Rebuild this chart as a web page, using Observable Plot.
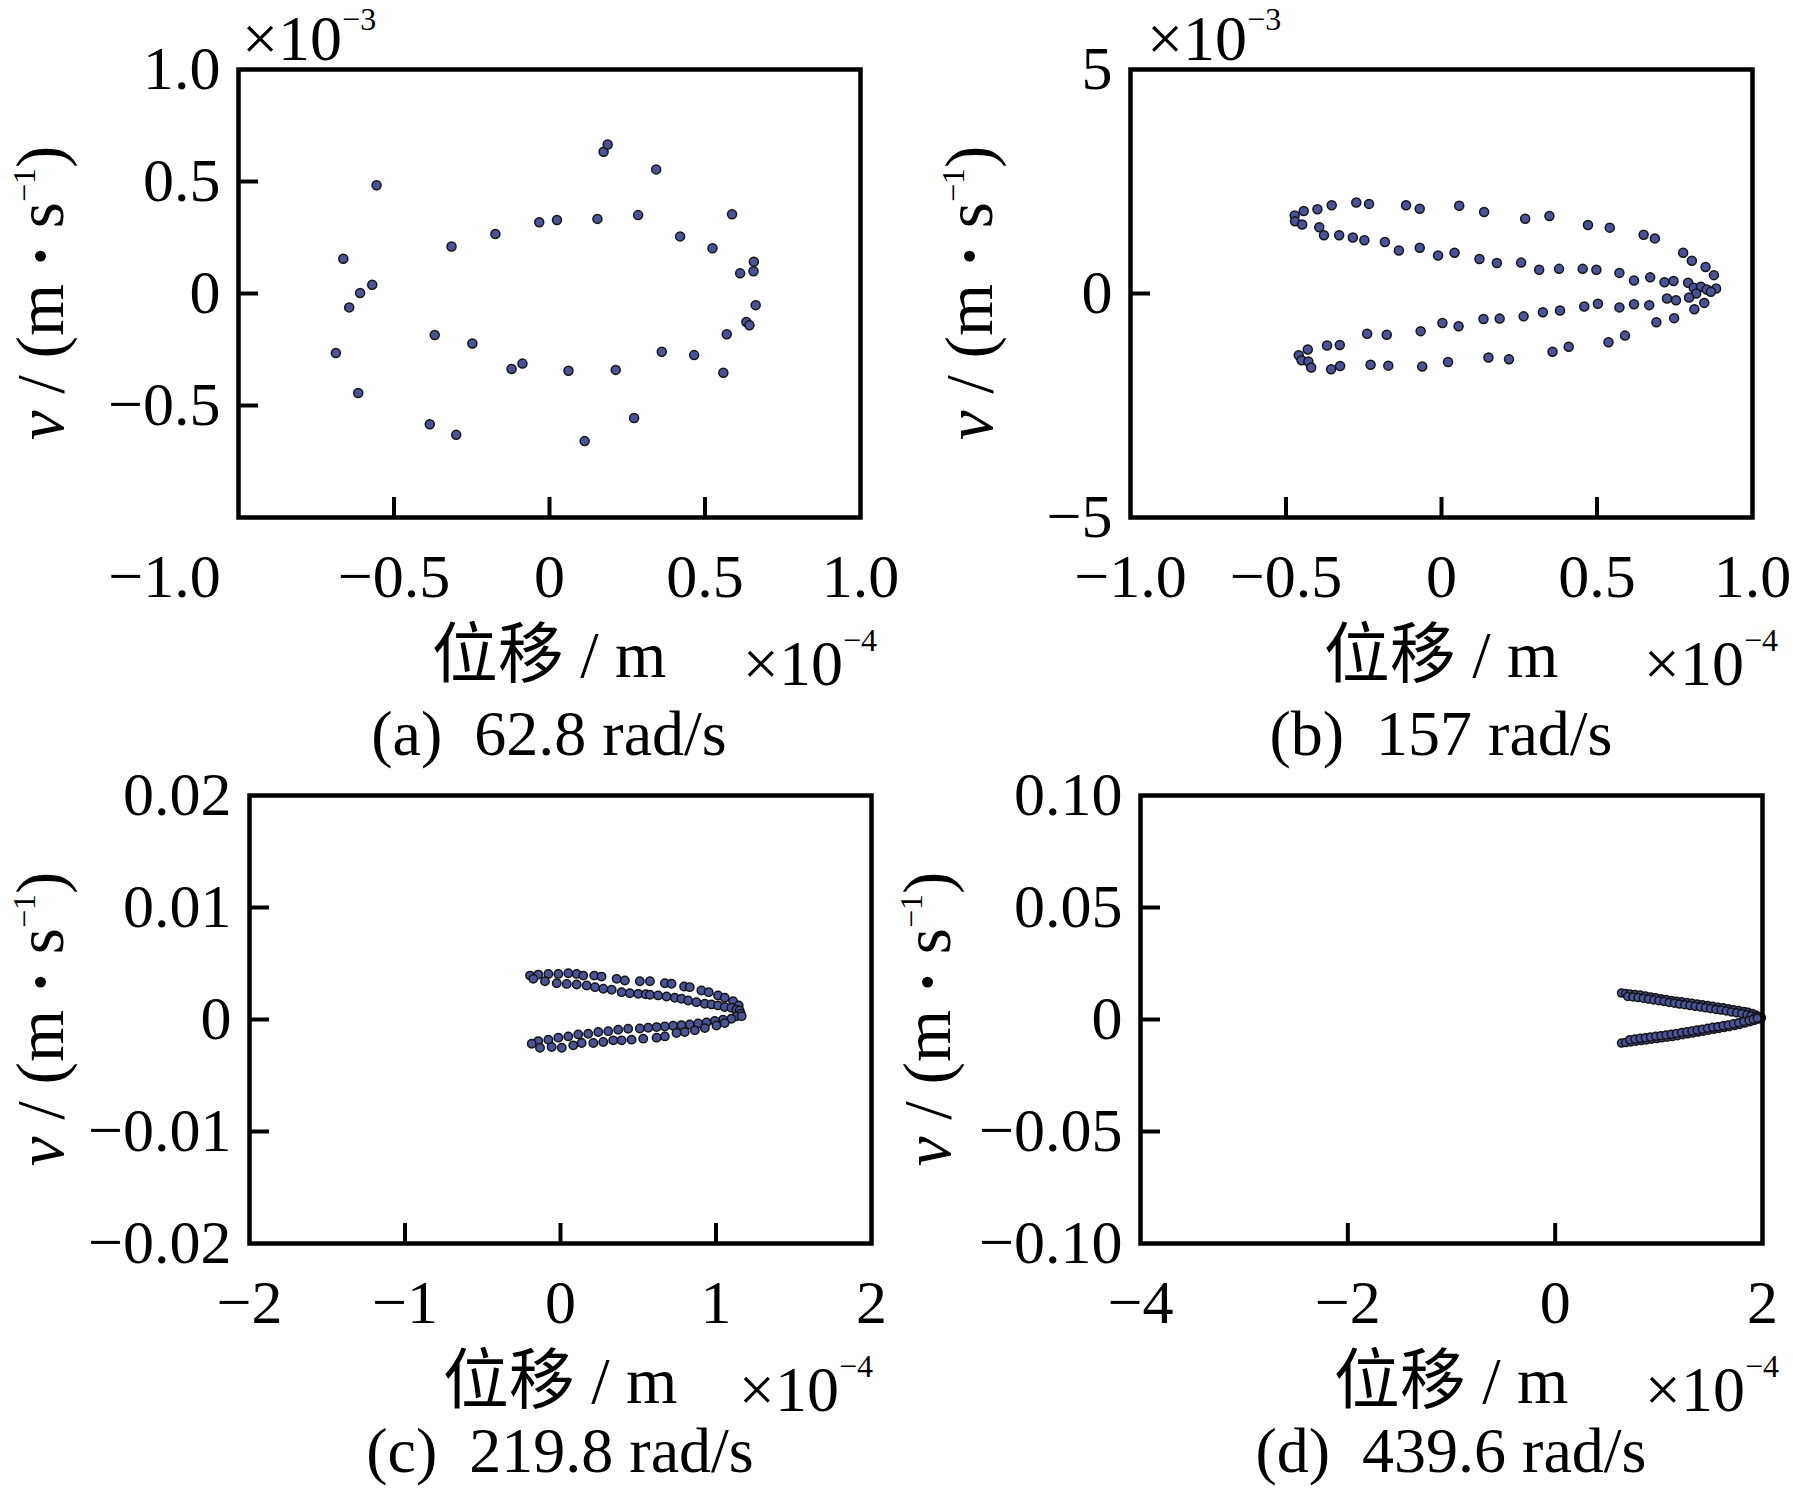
<!DOCTYPE html>
<html>
<head>
<meta charset="utf-8">
<script src="https://cdn.jsdelivr.net/npm/d3@7"></script>
<script src="https://cdn.jsdelivr.net/npm/@observablehq/plot@0.6"></script>
<style>
  html, body { margin: 0; padding: 0; background: #fff; }
  #root { position: relative; width: 1793px; height: 1488px; background: #fff; overflow: hidden; }
  #root svg { position: absolute; }
</style>
</head>
<body>
<div id="root"></div>
<script>
// ---------------- DATA ----------------
// (a) 62.8 rad/s : displacement (×1e-4 m), velocity (×1e-3 m/s)
const panelA = [
  [-0.556,0.483],[-0.663,0.155],[-0.570,0.039],[-0.609,0.002],[-0.644,-0.062],[-0.687,-0.266],
  [-0.615,-0.444],[-0.385,-0.584],[-0.300,-0.631],[-0.369,-0.185],[-0.248,-0.223],[-0.315,0.210],
  [-0.174,0.266],[-0.033,0.318],[0.024,0.328],[0.154,0.333],[0.174,0.633],[0.187,0.665],
  [0.285,0.350],[0.343,0.554],[0.420,0.255],[0.524,0.202],[0.587,0.354],[0.657,0.142],
  [0.656,0.099],[0.613,0.090],[0.663,-0.052],[0.633,-0.127],[0.643,-0.142],[0.570,-0.182],
  [0.559,-0.354],[0.465,-0.275],[0.361,-0.260],[0.272,-0.556],[0.213,-0.341],[0.113,-0.659],
  [0.061,-0.345],[-0.087,-0.313],[-0.122,-0.337]
];
// (b) 157 rad/s : displacement (×1e-4 m), velocity (×1e-3 m/s)
const panelB = [
  [-0.472,1.74],[-0.471,1.61],[-0.448,1.54],[-0.443,1.84],[-0.399,1.88],[-0.353,1.97],[-0.274,2.03],
  [-0.233,2.00],[-0.114,1.97],[-0.070,1.89],[0.057,1.96],[0.137,1.82],[0.269,1.67],[0.347,1.73],
  [0.471,1.53],[0.541,1.47],[0.650,1.31],[0.686,1.23],[0.777,0.91],[0.805,0.73],[0.849,0.59],[0.876,0.41],
  [-0.393,1.48],[-0.378,1.30],[-0.329,1.30],[-0.285,1.25],[-0.248,1.19],[-0.182,1.15],[-0.137,0.96],
  [-0.070,1.02],[-0.011,0.85],[0.042,0.91],[0.122,0.77],[0.178,0.68],[0.256,0.69],[0.314,0.53],
  [0.378,0.55],[0.454,0.55],[0.498,0.53],[0.572,0.46],[0.619,0.29],[0.671,0.36],[0.717,0.25],
  [0.746,0.28],[0.793,0.24],
  [0.811,0.13],[0.834,0.15],[0.853,0.09],[0.883,0.11],[0.866,0.04],[0.819,0.00],[0.796,-0.09],
  [0.845,-0.21],[0.813,-0.35],
  [0.754,-0.15],[0.725,-0.11],[0.668,-0.26],[0.619,-0.24],[0.572,-0.31],[0.503,-0.23],[0.459,-0.29],
  [0.381,-0.38],[0.326,-0.42],[0.264,-0.51],[0.187,-0.56],[0.135,-0.57],[0.055,-0.73],[0.003,-0.66],
  [-0.067,-0.84],[-0.176,-0.92],[-0.239,-0.90],[-0.327,-1.15],[-0.368,-1.16],[-0.430,-1.25],[-0.459,-1.38],
  [-0.450,-1.49],[-0.428,-1.52],[-0.419,-1.65],[-0.355,-1.69],[-0.326,-1.62],[-0.228,-1.59],[-0.171,-1.61],
  [-0.062,-1.63],[0.021,-1.53],[0.151,-1.43],[0.217,-1.47],[0.357,-1.30],[0.409,-1.19],[0.537,-1.09],
  [0.590,-0.94],[0.691,-0.64],[0.748,-0.55]
];
// (c) 219.8 rad/s : displacement (×1e-4 m), velocity (m/s)
const panelC = [
  // upper outer row
  [-0.196,0.00392],[-0.143,0.00401],[-0.078,0.00407],[-0.014,0.00407],[0.050,0.00413],[0.104,0.00407],
  [0.146,0.00392],[0.217,0.00392],[0.264,0.00383],[0.361,0.00363],[0.414,0.00348],[0.510,0.00342],
  [0.575,0.00342],[0.671,0.00324],[0.714,0.00319],[0.795,0.00295],[0.831,0.00289],[0.906,0.00259],
  [0.953,0.00244],[1.013,0.00215],[1.056,0.00194],[1.110,0.00164],[1.146,0.00126],
  // upper inner row
  [-0.175,0.00363],[-0.100,0.00342],[-0.024,0.00324],[0.040,0.00318],[0.104,0.00312],[0.168,0.00303],
  [0.222,0.00289],[0.275,0.00274],[0.329,0.00265],[0.393,0.00244],[0.446,0.00235],[0.500,0.00229],
  [0.548,0.00225],[0.575,0.00221],[0.628,0.00215],[0.682,0.00206],[0.735,0.00194],[0.778,0.00185],
  [0.821,0.00170],[0.874,0.00155],[0.928,0.00141],[0.971,0.00135],[1.013,0.00126],[1.056,0.00111],
  [1.099,0.00105],[1.131,0.00087],[1.152,0.00081],
  // tip
  [1.159,0.00052],[1.131,0.00028],[1.099,0.00007],[1.165,0.00030],
  // lower inner row
  [1.045,-0.00002],[0.992,-0.00014],[0.939,-0.00026],[0.885,-0.00035],[0.831,-0.00044],[0.778,-0.00050],
  [0.724,-0.00056],[0.671,-0.00062],[0.618,-0.00068],[0.564,-0.00074],[0.510,-0.00080],[0.435,-0.00082],
  [0.371,-0.00091],[0.307,-0.00104],[0.243,-0.00112],[0.178,-0.00127],[0.114,-0.00133],[0.050,-0.00151],
  [-0.014,-0.00162],[-0.078,-0.00180],[-0.143,-0.00193],
  // lower outer row
  [1.056,-0.00032],[1.003,-0.00053],[0.928,-0.00077],[0.864,-0.00097],[0.799,-0.00112],[0.746,-0.00121],
  [0.671,-0.00151],[0.618,-0.00162],[0.532,-0.00171],[0.457,-0.00180],[0.393,-0.00186],[0.339,-0.00186],
  [0.275,-0.00201],[0.211,-0.00210],[0.136,-0.00210],[0.082,-0.00231],[0.008,-0.00252],[-0.057,-0.00246],
  [-0.132,-0.00252],[-0.185,-0.00217]
];
// (d) 439.6 rad/s : displacement (×1e-4 m), velocity (m/s)
const panelD = [
  // upper outer row
  [0.64,0.0118],[0.68,0.0116],[0.72,0.0114],[0.77,0.0112],[0.82,0.0109],[0.87,0.0105],[0.92,0.0101],
  [0.97,0.0097],[1.02,0.0093],[1.07,0.0089],[1.12,0.0085],[1.17,0.0082],[1.22,0.0079],[1.27,0.0076],
  [1.32,0.0072],[1.37,0.0069],[1.42,0.0066],[1.47,0.0062],[1.52,0.0059],[1.57,0.0055],[1.62,0.0052],
  [1.67,0.0048],[1.72,0.0044],[1.77,0.0040],[1.82,0.0036],[1.86,0.0032],[1.90,0.0027],[1.93,0.0021],
  [1.96,0.0015],[1.98,0.0008],
  // upper inner row
  [0.70,0.0103],[0.75,0.0101],[0.80,0.0098],[0.85,0.0095],[0.90,0.0091],[0.95,0.0087],[1.00,0.0084],
  [1.05,0.0080],[1.10,0.0076],[1.15,0.0073],[1.20,0.0069],[1.25,0.0066],[1.30,0.0062],[1.35,0.0059],
  [1.40,0.0056],[1.45,0.0052],[1.50,0.0049],[1.55,0.0045],[1.60,0.0042],[1.65,0.0038],[1.70,0.0034],
  [1.75,0.0030],[1.80,0.0026],[1.85,0.0021],[1.89,0.0016],[1.93,0.0010],[1.96,0.0004],
  // lower outer row
  [0.64,-0.0105],[0.68,-0.0103],[0.73,-0.0100],[0.78,-0.0097],[0.83,-0.0094],[0.88,-0.0091],[0.93,-0.0088],
  [0.98,-0.0085],[1.03,-0.0082],[1.08,-0.0079],[1.13,-0.0076],[1.18,-0.0072],[1.23,-0.0068],[1.28,-0.0064],
  [1.33,-0.0060],[1.38,-0.0056],[1.43,-0.0052],[1.48,-0.0048],[1.53,-0.0044],[1.58,-0.0040],[1.63,-0.0036],
  [1.68,-0.0032],[1.73,-0.0027],[1.78,-0.0022],[1.83,-0.0016],[1.88,-0.0010],[1.92,-0.0004],[1.96,0.0002],
  [1.99,0.0008],
  // lower inner row
  [0.72,-0.0090],[0.77,-0.0087],[0.82,-0.0084],[0.87,-0.0081],[0.92,-0.0078],[0.97,-0.0075],[1.02,-0.0072],
  [1.07,-0.0069],[1.12,-0.0066],[1.17,-0.0062],[1.22,-0.0058],[1.27,-0.0055],[1.32,-0.0051],[1.37,-0.0047],
  [1.42,-0.0043],[1.47,-0.0039],[1.52,-0.0035],[1.57,-0.0032],[1.62,-0.0028],[1.67,-0.0024],[1.72,-0.0019],
  [1.77,-0.0014],[1.82,-0.0009],[1.87,-0.0004],[1.91,0.0001],[1.95,0.0006]
];

// tick values (labelled) and inner tick marks
const aXTicks = [-1, -0.5, 0, 0.5, 1];
const aYTicks = [1, 0.5, 0, -0.5];
const aXInner = [-0.5, 0, 0.5];
const aYInner = [0.5, 0, -0.5];
const bXTicks = [-1, -0.5, 0, 0.5, 1];
const bYTicks = [5, 0, -5];
const bXInner = [-0.5, 0, 0.5];
const bYInner = [0];
const cXTicks = [-2, -1, 0, 1, 2];
const cYTicks = [0.02, 0.01, 0, -0.01, -0.02];
const cXInner = [-1, 0, 1];
const cYInner = [0.01, 0, -0.01];
const dXTicks = [-4, -2, 0, 2];
const dYTicks = [0.10, 0.05, 0, -0.05, -0.10];
const dXInner = [-2, 0];
const dYInner = [0.05, 0, -0.05];

const captions = ["(a)\u00a0 62.8 rad/s", "(b)\u00a0 157 rad/s", "(c)\u00a0 219.8 rad/s", "(d)\u00a0 439.6 rad/s"];
const xLabel = "位移 / m";
const xExp = "−4";
const yExp = "−3";

// ---------------- DRAWING ----------------
const FONT = '"Liberation Serif", "Times New Roman", "Noto Sans CJK SC", serif';
const f1 = d => d === 0 ? "0" : d3.format(".1f")(d);
const f2 = d => d === 0 ? "0" : d3.format(".2f")(d);
const fi = d => d3.format("d")(d);

function panel(cfg) {
  const {left, top, width, height, ml, mr, mt, mb, data, xDomain, yDomain,
         xTicks, yTicks, xInner, yInner, fx, fy, r, caption, ylOff, topExp, topExpOff, botExpOff,
         firstDx, capOff} = cfg;
  const fw = width - ml - mr, fh = height - mt - mb;
  const xr = xDomain[1] - xDomain[0], yr = yDomain[1] - yDomain[0];
  const tl = 20;
  const axOpts = {anchor: "bottom", tickSize: 0, tickPadding: 35, tickFormat: fx, fontSize: 62, label: null};
  const svg = Plot.plot({
    width, height,
    marginLeft: ml, marginRight: mr, marginTop: mt, marginBottom: mb,
    style: {background: "transparent", overflow: "visible", fontFamily: FONT, fontSize: "62px", color: "black"},
    x: {domain: xDomain},
    y: {domain: yDomain},
    marks: [
      Plot.axisX(xTicks.slice(0, 1), {...axOpts, dx: firstDx}),
      Plot.axisX(xTicks.slice(1), axOpts),
      Plot.axisY(yTicks, {anchor: "left", tickSize: 0, tickPadding: 18, tickFormat: fy, fontSize: 62, label: null}),
      Plot.ruleX(xInner, {x: d => d, y1: yDomain[0], y2: yDomain[0] + yr * tl / fh, stroke: "black", strokeWidth: 4}),
      Plot.ruleY(yInner, {y: d => d, x1: xDomain[0], x2: xDomain[0] + xr * tl / fw, stroke: "black", strokeWidth: 4}),
      Plot.dot(data, {x: d => d[0], y: d => d[1], r, fill: "#4a5396", stroke: "#141414", strokeWidth: 1.5}),
      Plot.frame({stroke: "black", strokeWidth: 4.5})
    ]
  });
  svg.style.left = left + "px";
  svg.style.top = top + "px";
  const g = d3.select(svg).append("g").attr("font-family", FONT).attr("fill", "black")
    .attr("text-anchor", "start");
  // y label
  const yl = g.append("text")
    .attr("transform", `translate(${ml - ylOff},${mt + fh / 2}) rotate(-90)`)
    .attr("text-anchor", "middle").attr("font-size", 67);
  yl.append("tspan").attr("font-style", "italic").text("v");
  yl.append("tspan").text(" / (m ");
  yl.append("tspan").attr("font-weight", "bold").text("·");
  yl.append("tspan").text(" s");
  yl.append("tspan").attr("font-size", 32).attr("dy", -28).text("−1");
  yl.append("tspan").attr("dy", 28).text(")");
  // exponent above y axis
  if (topExp) {
    const t = g.append("text").attr("x", ml + topExpOff).attr("y", mt - 9)
      .attr("text-anchor", "start").attr("font-size", 64);
    t.append("tspan").text("×10");
    t.append("tspan").attr("font-size", 32).attr("dy", -30).text(yExp);
  }
  // exponent at lower right
  const e = g.append("text").attr("x", ml + fw + botExpOff).attr("y", mt + fh + 168)
    .attr("text-anchor", "end").attr("font-size", 64);
  e.append("tspan").text("×10");
  e.append("tspan").attr("font-size", 32).attr("dy", -34).text(xExp);
  // x label
  g.append("text").attr("x", ml + fw / 2).attr("y", mt + fh + 160)
    .attr("text-anchor", "middle").attr("font-size", 66).text(xLabel);
  // caption
  g.append("text").attr("x", ml + fw / 2).attr("y", mt + fh + capOff)
    .attr("text-anchor", "middle").attr("font-size", 64).text(caption);
  document.getElementById("root").appendChild(svg);
}

panel({left: 0, top: 0, width: 896, height: 790, ml: 238, mr: 36, mt: 69, mb: 273,
  data: panelA, xDomain: [-1, 1], yDomain: [-1, 1], xTicks: aXTicks, yTicks: aYTicks,
  xInner: aXInner, yInner: aYInner, fx: f1, fy: f1, r: 4.5, caption: captions[0],
  ylOff: 175, topExp: true, topExpOff: 4, botExpOff: 17, firstDx: -74, capOff: 238});
panel({left: 896, top: 0, width: 897, height: 790, ml: 234, mr: 41, mt: 69, mb: 273,
  data: panelB, xDomain: [-1, 1], yDomain: [-5, 5], xTicks: bXTicks, yTicks: bYTicks,
  xInner: bXInner, yInner: bYInner, fx: f1, fy: fi, r: 4.5, caption: captions[1],
  ylOff: 138, topExp: true, topExpOff: 17, botExpOff: 26, firstDx: 0, capOff: 238});
panel({left: 0, top: 760, width: 896, height: 728, ml: 249, mr: 25, mt: 35, mb: 245,
  data: panelC, xDomain: [-2, 2], yDomain: [-0.02, 0.02], xTicks: cXTicks, yTicks: cYTicks,
  xInner: cXInner, yInner: cYInner, fx: fi, fy: f2, r: 4.2, caption: captions[2],
  ylOff: 186, topExp: false, botExpOff: 2, firstDx: 0, capOff: 229});
panel({left: 896, top: 760, width: 897, height: 728, ml: 244, mr: 31, mt: 35, mb: 245,
  data: panelD, xDomain: [-4, 2], yDomain: [-0.1, 0.1], xTicks: dXTicks, yTicks: dYTicks,
  xInner: dXInner, yInner: dYInner, fx: fi, fy: f2, r: 4, caption: captions[3],
  ylOff: 190, topExp: false, botExpOff: 17, firstDx: 0, capOff: 229});
</script>
</body>
</html>
